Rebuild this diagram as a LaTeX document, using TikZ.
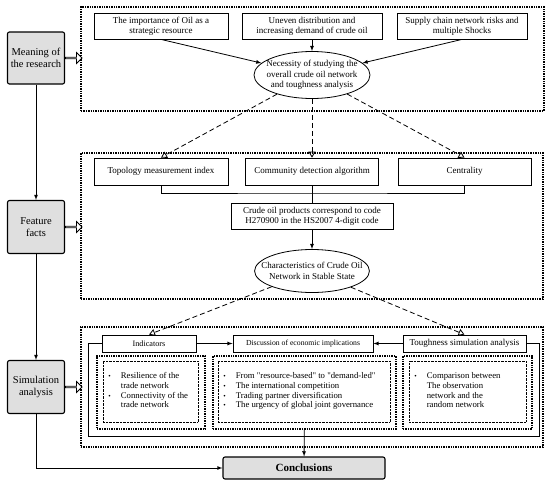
\documentclass[tikz,border=0pt]{standalone}
\usepackage{fontspec}
\setmainfont{Liberation Serif}
\usepackage{tikz}
\usetikzlibrary{shapes.geometric}
\usetikzlibrary{shapes.arrows}
\usetikzlibrary{arrows.meta}
\usetikzlibrary{positioning}
\usetikzlibrary{calc}
\tikzset{
  box/.style={draw,line width=0.8pt,inner sep=1pt,align=center,font=\fontsize{9}{10}\selectfont},
  gbox/.style={draw,fill=gray!25,rounded corners=2pt,line width=1.1pt,align=center,minimum width=57pt,minimum height=53pt,font=\fontsize{10.5}{12.5}\selectfont},
  oval/.style={ellipse,draw,line width=0.8pt,align=center,inner ysep=0pt,font=\fontsize{9}{10.5}\selectfont},
  frame/.style={draw,dash pattern=on 1.4pt off 1pt,line width=1.2pt},
  subframe/.style={draw,densely dotted,line width=0.4pt},
  hollow/.style={single arrow,draw,line width=0.8pt,fill=white,minimum height=16.5pt,minimum width=11pt,single arrow head extend=2.5pt,inner sep=0pt,anchor=tail},
  dasharrow/.style={dash pattern=on 5pt off 3pt,line width=0.8pt,-{Triangle[open,length=6pt,width=7pt]}},
  lst/.style={inner sep=0pt,anchor=west,font=\fontsize{8.7}{9.7}\selectfont}
}
\newcommand{\bul}{{\scriptsize\textbullet}}
\begin{document}
\begin{tikzpicture}[x=1pt,y=-1pt,line width=0.8pt]
\useasboundingbox (0,0) rectangle (550,485);

\node (topf) at (312.5,59) [frame,minimum width=463pt,minimum height=104pt] {};
\node (midf) at (312,226) [frame,minimum width=462pt,minimum height=146pt] {};
\node (botf) at (312,387) [frame,minimum width=462pt,minimum height=120pt] {};

\node (meaning) at (36,58) [gbox,minimum height=52pt] {Meaning of\\the research};
\node (feature) at (36,227) [gbox] {Feature\\facts};
\node (simul) at (36,387) [gbox] {Simulation\\analysis};
\node (concl) at (304,468) [gbox,minimum width=162pt,minimum height=22pt,font=\fontsize{11}{13}\selectfont\bfseries] {Conclusions};

\node (h1) at (meaning.east) [hollow] {};
\node (h2) at (feature.east) [hollow] {};
\node (h3) at (simul.east) [hollow] {};

\node (imp) at (161,26) [box,minimum width=134pt,minimum height=26pt] {The importance of Oil as a\\strategic resource};
\node (uneven) at (312,26) [box,minimum width=140pt,minimum height=26pt] {Uneven distribution and\\increasing demand of crude oil};
\node (supply) at (462,26) [box,minimum width=130pt,minimum height=26pt] {Supply chain network risks and\\multiple Shocks};
\node (nec) at (312,75) [oval,inner xsep=-5pt,minimum width=116pt,minimum height=47pt] {Necessity of studying the\\overall crude oil network\\and toughness analysis};

\node (topo) at (161,171.5) [box,minimum width=134pt,minimum height=27pt] {Topology measurement index};
\node (comm) at (312,171.5) [box,minimum width=133pt,minimum height=27pt] {Community detection algorithm};
\node (cent) at (464.5,171.5) [box,minimum width=133pt,minimum height=27pt] {Centrality};
\coordinate (junc) at (312,193);
\node (crude) at (312,216) [box,minimum width=162pt,minimum height=26pt] {Crude oil products correspond to code\\H270900 in the HS2007 4-digit code};
\node (char) at (312,271) [oval,inner xsep=-10pt,minimum width=106pt,minimum height=43pt] {Characteristics of Crude Oil\\Network in Stable State};

\node (ind) at (149,343.5) [box,minimum width=94pt,minimum height=17pt,font=\fontsize{8.2}{9}\selectfont] {Indicators};
\node (disc) at (303,343.5) [box,minimum width=140pt,minimum height=17pt,font=\fontsize{7.7}{9}\selectfont] {Discussion of economic implications};
\node (tough) at (464.5,343.5) [box,minimum width=123pt,minimum height=17pt] {Toughness simulation analysis};
\coordinate (fl) at (88,436);
\coordinate (fr) at (539,436);

\node (dleft) at (151,392.5) [frame,minimum width=108pt,minimum height=73pt] {};
\node (dleftin) at (150.5,391.5) [subframe,minimum width=95pt,minimum height=61pt] {};
\node (dmid) at (304.5,392.5) [frame,minimum width=183pt,minimum height=73pt] {};
\node (dmidin) at (304,391.5) [subframe,minimum width=172pt,minimum height=61pt] {};
\node (drght) at (467.5,392.5) [frame,minimum width=129pt,minimum height=73pt] {};
\node (drghtin) at (467.5,391.5) [subframe,minimum width=117pt,minimum height=61pt] {};

\node (lleft) at (108,391.5) [lst] {\begin{tabular}{@{}l@{\hspace{10pt}}l@{}}\bul & Resilience of the\\ & trade network\\ \bul & Connectivity of the\\ & trade network\end{tabular}};
\node (lmid) at (223,391.5) [lst] {\begin{tabular}{@{}l@{\hspace{10pt}}l@{}}\bul & From \textquotedbl resource-based\textquotedbl{} to \textquotedbl demand-led\textquotedbl\\ \bul & The international competition\\ \bul & Trading partner diversification\\ \bul & The urgency of global joint governance\end{tabular}};
\node (lrght) at (414,391.5) [lst] {\begin{tabular}{@{}l@{\hspace{10pt}}l@{}}\bul & Comparison between\\ & The observation\\ & network and the\\ & random network\end{tabular}};

\draw [-latex] (meaning) -- (feature);
\draw [-latex] (feature) -- (simul);
\draw [-latex] (simul) |- (concl);

\draw [-latex] (imp.south) -- (nec);
\draw [-latex] (uneven) -- (nec);
\draw [-latex] (supply.south) -- (nec);

\draw [dasharrow] (nec) -- (topo.north);
\draw [dasharrow] (nec) -- (comm);
\draw [dasharrow] (nec) -- (cent.north);

\draw (topo) |- (junc) -| (cent);
\draw (comm) -- (crude);
\draw [-latex] (crude) -- (char);

\draw [dasharrow] (char) -- (ind.north);
\draw [dasharrow] (char) -- (tough.north);

\draw (ind.west) -| (fl) -- (fr) |- (tough.east);
\draw [-latex] (ind) -- (disc);
\draw [-latex] (tough) -- (disc);
\draw [-latex] (dmid) -- (concl);
\end{tikzpicture}
\end{document}
